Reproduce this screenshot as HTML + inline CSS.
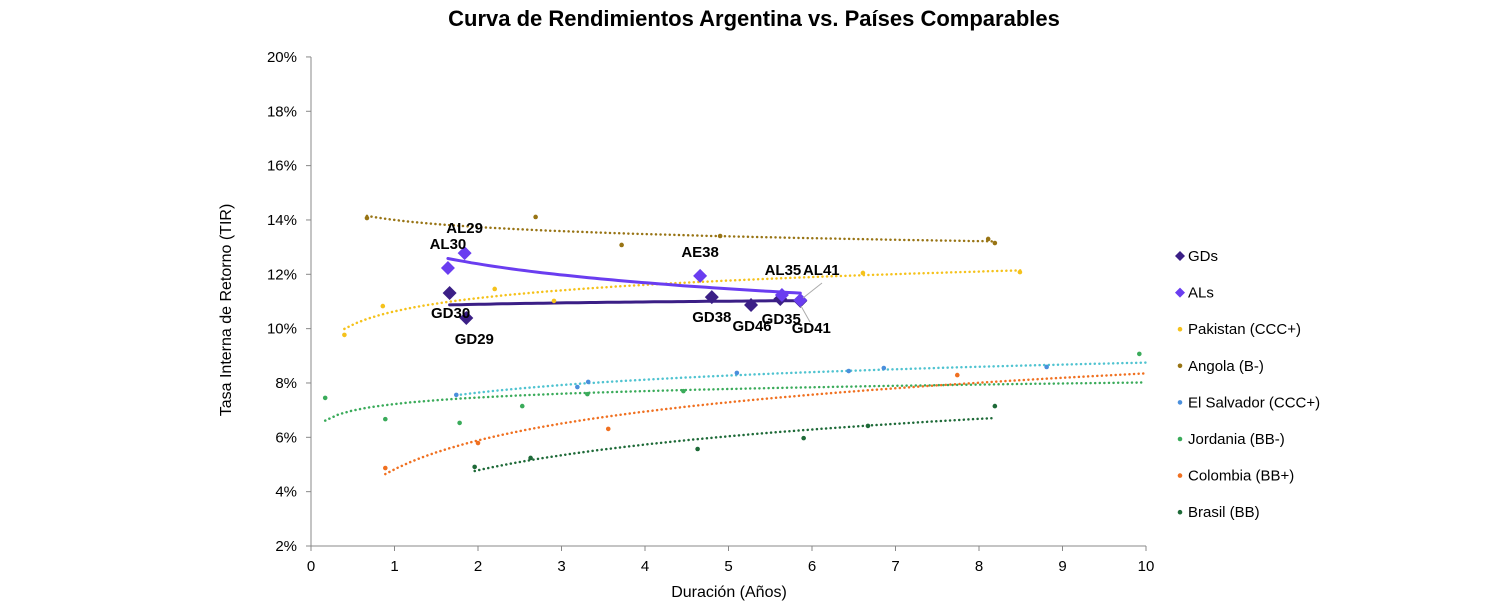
<!DOCTYPE html>
<html><head><meta charset="utf-8"><style>
body{margin:0;background:#fff;}
svg{display:block;font-family:"Liberation Sans",Arial,sans-serif;}
</style></head><body>
<svg id="c" width="1497" height="611"></svg>
<script>
const gdNames=["GD30","GD29","GD38","GD46","GD35","GD41"];
const gdX=[1.66,1.86,4.80,5.27,5.62,5.86];
const gdY=[11.31,10.39,11.16,10.87,11.09,11.02];
const alNames=["AL30","AL29","AE38","AL35","AL41"];
const alX=[1.64,1.84,4.66,5.64,5.86];
const alY=[12.23,12.78,11.94,11.24,11.05];
const pakX=[0.40,0.86,2.20,2.91,6.61,8.49];
const pakY=[9.77,10.83,11.46,11.02,12.05,12.08];
const angX=[0.67,2.69,3.72,4.90,8.11,8.19];
const angY=[14.07,14.11,13.08,13.41,13.30,13.15];
const salX=[1.74,3.19,3.32,5.10,6.44,6.86,8.81];
const salY=[7.56,7.85,8.04,8.37,8.44,8.55,8.59];
const jorX=[0.17,0.89,1.78,2.53,3.31,4.46,9.92];
const jorY=[7.45,6.67,6.53,7.15,7.59,7.70,9.07];
const colX=[0.89,2.00,3.56,7.74];
const colY=[4.87,5.79,6.31,8.29];
const braX=[1.96,2.63,4.63,5.90,6.67,8.19];
const braY=[4.91,5.24,5.57,5.97,6.42,7.15];
const xTicks=[0,1,2,3,4,5,6,7,8,9,10];
const yTicks=[2,4,6,8,10,12,14,16,18,20];
const legendLabels=["GDs","ALs","Pakistan (CCC+)","Angola (B-)","El Salvador (CCC+)","Jordania (BB-)","Colombia (BB+)","Brasil (BB)"];

const NS="http://www.w3.org/2000/svg";
const svg=document.getElementById('c');
const X=v=>311+v*83.5, Y=v=>546-(v-2)*27.17;
function el(t,a,p){const e=document.createElementNS(NS,t);for(const k in a)e.setAttribute(k,a[k]);(p||svg).appendChild(e);return e;}
function txt(s,a,p){const e=el('text',a,p);e.textContent=s;return e;}
function logFit(xs,ys){const n=xs.length;let sx=0,sy=0,sxx=0,sxy=0;xs.forEach((x,i)=>{const l=Math.log(x);sx+=l;sy+=ys[i];sxx+=l*l;sxy+=l*ys[i];});const b=(n*sxy-sx*sy)/(n*sxx-sx*sx);return [ (sy-b*sx)/n, b];}
function trend(xs,ys,x1,color,name,w,dash){const [a,b]=logFit(xs,ys);const x0=Math.min(...xs);let pts=[];for(let i=0;i<=60;i++){const x=x0+(x1-x0)*i/60;pts.push(X(x).toFixed(1)+','+Y(a+b*Math.log(x)).toFixed(1));}
const p=el('polyline',{points:pts.join(' '),fill:'none',stroke:color,'stroke-width':w,'stroke-dasharray':dash||'','stroke-linecap':'round'});

}

const t=txt("Curva de Rendimientos Argentina vs. Países Comparables",{x:754,y:26,'text-anchor':'middle','font-size':22,'font-weight':'bold'});


const ax=el('g',{});


el('line',{x1:311,y1:57,x2:311,y2:546,stroke:'#888'},ax);
el('line',{x1:311,y1:546,x2:1146,y2:546,stroke:'#888'},ax);
yTicks.forEach(v=>{el('line',{x1:306,x2:311,y1:Y(v),y2:Y(v),stroke:'#888'},ax);
const l=txt(v+'%',{x:297,y:Y(v)+5,'text-anchor':'end','font-size':15,fill:'#000'},ax);

});
xTicks.forEach(v=>{el('line',{x1:X(v),x2:X(v),y1:546,y2:551,stroke:'#888'},ax);
const l=txt(v,{x:X(v),y:571,'text-anchor':'middle','font-size':15},ax);

});
const xt=txt("Duración (Años)",{x:729,y:597,'text-anchor':'middle','font-size':16});


const yt=txt("Tasa Interna de Retorno (TIR)",{x:0,y:0,'text-anchor':'middle','font-size':16,transform:'translate(231,310) rotate(-90)'});



const C={gd:'#3b1f86',al:'#6a3df0',pak:'#f5c21b',ang:'#987414',sal:'#4a8fdc',salT:'#4fc3d0',jor:'#3aab5a',col:'#f07020',bra:'#1e6a38'};
trend(pakX,pakY,8.5,C.pak,'pakistan-trend',2.5,'0.1 4.5');
trend(angX,angY,8.2,C.ang,'angola-trend',2.5,'0.1 4.5');
trend(salX,salY,10,C.salT,'el-salvador-trend',2.5,'0.1 4.5');
trend(jorX,jorY,9.95,C.jor,'jordania-trend',2.5,'0.1 4.5');
trend(colX,colY,10,C.col,'colombia-trend',2.5,'0.1 4.5');
trend(braX,braY,8.19,C.bra,'brasil-trend',2.5,'0.1 4.5');
trend(gdX,gdY,5.86,C.gd,'gd-trend',3);
trend(alX,alY,5.86,C.al,'al-trend',3);

function dots(xs,ys,color,name){xs.forEach((x,i)=>{const c=el('circle',{cx:X(x),cy:Y(ys[i]),r:2.3,fill:color});

});}
dots(pakX,pakY,C.pak,'pakistan-point');
dots(angX,angY,C.ang,'angola-point');
dots(salX,salY,C.sal,'el-salvador-point');
dots(jorX,jorY,C.jor,'jordania-point');
dots(colX,colY,C.col,'colombia-point');
dots(braX,braY,C.bra,'brasil-point');
function diamonds(xs,ys,color,name){xs.forEach((x,i)=>{const cx=X(x),cy=Y(ys[i]);const d=el('polygon',{points:`${cx},${cy-7} ${cx+7},${cy} ${cx},${cy+7} ${cx-7},${cy}`,fill:color});

});}
diamonds(gdX,gdY,C.gd,'gd-bond-point');
diamonds(alX,alY,C.al,'al-bond-point');
el('line',{x1:822,y1:283,x2:803,y2:298,stroke:'#aaa'});
el('line',{x1:810,y1:322,x2:801,y2:306,stroke:'#aaa'});
const gdOff=[[1,25],[8,26],[0,25],[1,26],[1,25],[11,32]];
const alOff=[[0,-19],[0,-20],[0,-19],[1,-20],[21,-25]];
gdNames.forEach((n,i)=>{const l=txt(n,{x:X(gdX[i])+gdOff[i][0],y:Y(gdY[i])+gdOff[i][1],'text-anchor':'middle','font-size':15,'font-weight':'bold'});

});
alNames.forEach((n,i)=>{const l=txt(n,{x:X(alX[i])+alOff[i][0],y:Y(alY[i])+alOff[i][1],'text-anchor':'middle','font-size':15,'font-weight':'bold'});

});
const lc=[C.gd,C.al,C.pak,C.ang,C.sal,C.jor,C.col,C.bra];
legendLabels.forEach((s,i)=>{const y=256+i*36.6;const g=el('g',{});


if(i<2)el('polygon',{points:`1180,${y-5} 1185,${y} 1180,${y+5} 1175,${y}`,fill:lc[i]},g);
else el('circle',{cx:1180,cy:y,r:2.3,fill:lc[i]},g);
txt(s,{x:1188,y:y+5,'font-size':15},g);});
</script>
</body></html>
